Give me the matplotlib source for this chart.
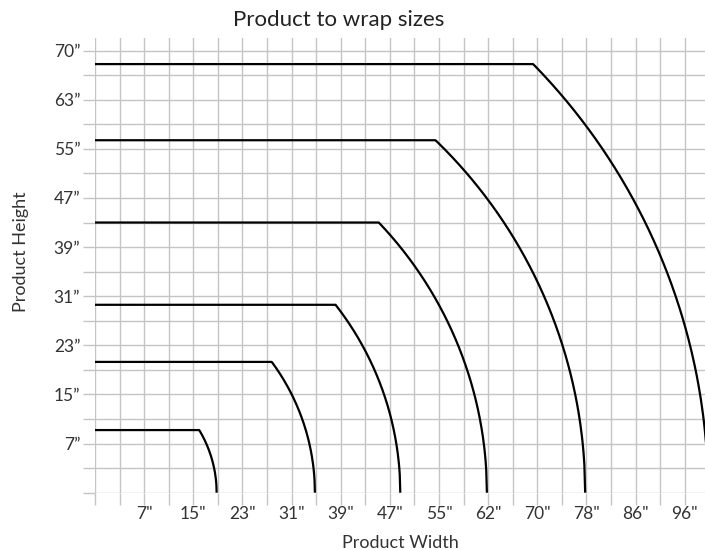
import numpy as np
import matplotlib
matplotlib.use("Agg")
import matplotlib.pyplot as plt
from matplotlib.ticker import MultipleLocator, FixedLocator, FixedFormatter

# Wrap sizes: each wrap covers products whose diagonal fits within its radius,
# with a maximum product height (inches).
wrap_radius = [19.8, 35.8, 49.7, 63.8, 79.8, 99.8]
wrap_max_height = [10.2, 21.3, 30.6, 44.0, 57.4, 69.8]

x_tick_values = [8, 16, 24, 32, 40, 48, 56, 64, 72, 80, 88, 96]
x_tick_labels = ['7"', '15"', '23"', '31"', '39"', '47"', '55"', '62"', '70"', '78"', '86"', '96"']
y_tick_values = [8, 16, 24, 32, 40, 48, 56, 64, 72]
y_tick_labels = ['7”', '15”', '23”', '31”', '39”', '47”', '55”', '63”', '70”']

GRID = "#c4c4c4"
TEXT = "#333333"
FONT = "Lato"

fig = plt.figure(figsize=(7.05, 5.5), dpi=100)
ax = fig.add_axes([95 / 705, 57.3 / 550, 610 / 705, 454.4 / 550])

ax.set_xlim(0, 610 / 24.57 * 4)
ax.set_ylim(0, 74.0)

for r, h in zip(wrap_radius, wrap_max_height):
    xs = np.linspace(0, r, 600)
    ys = np.minimum(h, np.sqrt(np.clip(r ** 2 - xs ** 2, 0, None)))
    ax.plot(xs, ys, color="black", lw=1.6, solid_capstyle="butt", zorder=3)

# Grid every 4 inches, labels every 8 inches
ax.xaxis.set_major_locator(FixedLocator(x_tick_values))
ax.xaxis.set_major_formatter(FixedFormatter(x_tick_labels))
ax.xaxis.set_minor_locator(MultipleLocator(4))
ax.yaxis.set_major_locator(FixedLocator(y_tick_values))
ax.yaxis.set_major_formatter(FixedFormatter(y_tick_labels))
ax.yaxis.set_minor_locator(MultipleLocator(4))

ax.grid(True, which="both", color=GRID, lw=1.0, zorder=0)
ax.set_axisbelow(True)
for s in ax.spines.values():
    s.set_visible(False)

ax.tick_params(axis="both", which="both", direction="out", length=8.6,
               width=1.0, color=GRID, labelcolor=TEXT, labelsize=12.5)
ax.tick_params(axis="x", which="major", pad=1)
ax.tick_params(axis="y", which="major", pad=2)
for lab in ax.get_xticklabels() + ax.get_yticklabels():
    lab.set_fontfamily(FONT)

fig.text(339 / 705, 1 - 26.5 / 550, "Product to wrap sizes", ha="center",
         va="baseline", fontsize=16, color="#222222", family=FONT)
fig.text(400 / 705, 1 - 548 / 550, "Product Width", ha="center",
         va="baseline", fontsize=13, color=TEXT, family=FONT)
fig.text(21 / 705, 1 - 252 / 550, "Product Height", ha="center",
         va="center", rotation=90, fontsize=13, color=TEXT, family=FONT)

fig.savefig("out.png", dpi=100)
